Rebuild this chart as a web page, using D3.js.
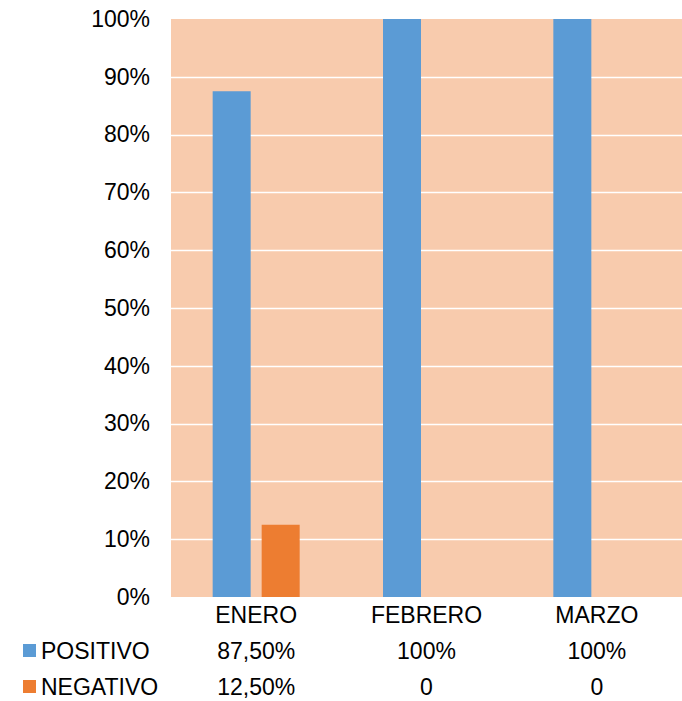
<!DOCTYPE html>
<html><head><meta charset="utf-8">
<script src="https://cdn.jsdelivr.net/npm/d3@7"></script>
<style>body{margin:0;background:#fff}svg{display:block}text{font-family:"Liberation Sans",Arial,sans-serif;fill:#000}</style>
</head><body>
<script>
const categories = ["ENERO","FEBRERO","MARZO"];
const seriesNames = ["POSITIVO","NEGATIVO"];
const positivo = [0.875, 1.0, 1.0];
const negativo = [0.125, 0, 0];
const positivoLabels = ["87,50%","100%","100%"];
const negativoLabels = ["12,50%","0","0"];
const yTicks = [0,0.1,0.2,0.3,0.4,0.5,0.6,0.7,0.8,0.9,1.0];
const colors = ["#5B9BD5","#ED7D31"];

(function(){
const W=682,H=701;
const svg=d3.select("body").append("svg").attr("width",W).attr("height",H);
const pL=171,pR=682,pT=19,pB=597;
const x=d3.scaleBand().domain(categories).range([pL,pR]);
const y=d3.scaleLinear().domain([0,1]).range([pB,pT]);
const fs=23;

svg.append("rect").attr("x",pL).attr("y",pT).attr("width",pR-pL).attr("height",pB-pT).attr("fill","#F8CBAD");
svg.append("g").selectAll("line").data(yTicks.slice(1,-1)).join("line")
  .attr("x1",pL).attr("x2",pR).attr("y1",d=>Math.round(y(d))+0.5).attr("y2",d=>Math.round(y(d))+0.5)
  .attr("stroke","#fff").attr("stroke-width",1.5);

const barW=38, gap=11;
const data=[positivo,negativo];
data.forEach((vals,si)=>{
  svg.append("g").selectAll("rect").data(categories).join("rect")
    .attr("x",(c)=>x(c)+x.bandwidth()/2-(barW+gap/2)+si*(barW+gap))
    .attr("width",barW)
    .attr("y",(c,i)=>y(vals[i]))
    .attr("height",(c,i)=>y(0)-y(vals[i]))
    .attr("fill",colors[si]);
});

const yAxis=d3.axisLeft(y).tickValues(yTicks).tickFormat(d3.format(".0%")).tickSize(0).tickPadding(21);
const ga=svg.append("g").attr("transform",`translate(${pL},0)`).call(yAxis);
ga.select(".domain").remove();
ga.selectAll("text").attr("font-size",fs).attr("font-family","Liberation Sans, Arial, sans-serif").attr("fill","#000");

const xAxis=d3.axisBottom(x).tickSize(0).tickPadding(10);
const gx=svg.append("g").attr("transform",`translate(0,${pB})`).call(xAxis);
gx.select(".domain").remove();
gx.selectAll("text").attr("font-size",fs).attr("font-family","Liberation Sans, Arial, sans-serif").attr("fill","#000");

const rows=[positivoLabels,negativoLabels];
const rowY=[659,695];
rows.forEach((labels,ri)=>{
  svg.append("g").selectAll("text").data(categories).join("text")
    .attr("x",c=>x(c)+x.bandwidth()/2).attr("y",rowY[ri])
    .attr("text-anchor","middle").attr("font-size",fs).text((c,i)=>labels[i]);
  svg.append("rect").attr("x",23).attr("y",rowY[ri]-15).attr("width",13).attr("height",13).attr("fill",colors[ri]);
  svg.append("text").attr("x",41).attr("y",rowY[ri]).attr("font-size",fs).text(seriesNames[ri]);
});
})();
</script>
</body></html>
